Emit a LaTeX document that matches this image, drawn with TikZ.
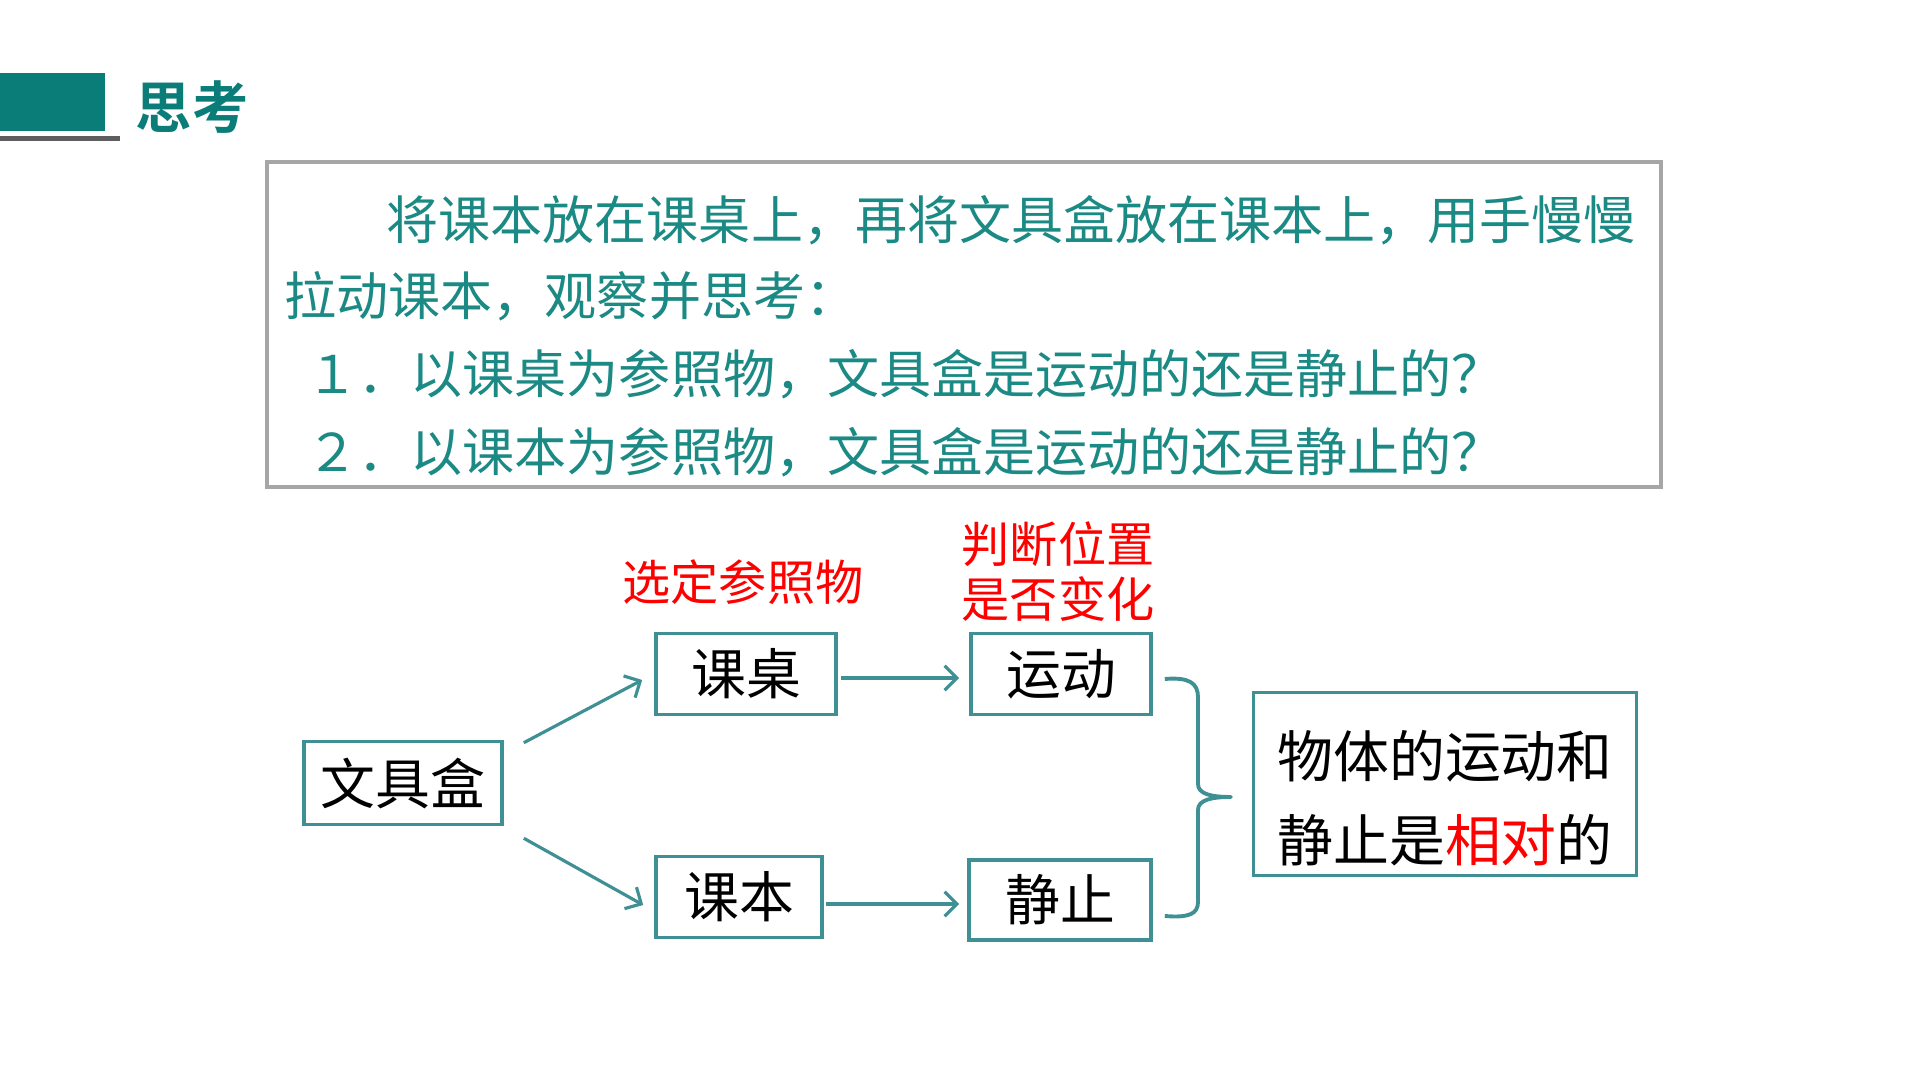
\documentclass[tikz,border=0pt]{standalone}
\usepackage{fontspec}
\setmainfont{Noto Sans CJK SC}[BoldFont={Noto Sans CJK SC Bold}]
\usetikzlibrary{arrows.meta,calc}
\definecolor{TitleTeal}{HTML}{0B7D79}
\definecolor{TextTeal}{HTML}{1B8984}
\definecolor{LineTeal}{HTML}{3E9095}
\definecolor{FrameGrey}{HTML}{A6A6A6}
\definecolor{BarGrey}{HTML}{5E5E5E}

\begin{document}
\begin{tikzpicture}[
    x=0.01cm, y=-0.01cm,
    cell/.style={
        draw=LineTeal,
        line width=1pt,
        inner sep=0pt,
        text=black,
        font=\fontsize{15.6pt}{18pt}\selectfont
    },
    flow/.style={
        draw=LineTeal,
        line width=0.9pt,
        -{Straight Barb[length=3.5pt,width=7pt]}
    },
    note/.style={
        text=red,
        inner sep=0pt,
        align=center,
        font=\fontsize{13.7pt}{15.6pt}\selectfont
    },
    textline/.style={
        anchor=west,
        inner sep=0pt,
        text=TextTeal,
        font=\fontsize{14.8pt}{17pt}\selectfont
    }
]
\useasboundingbox (0,0) rectangle (1920,1080);

% header
\fill[TitleTeal] (0,73) rectangle (105,131);
\fill[BarGrey] (0,136) rectangle (120,141);
\node[inner sep=0pt, text=TitleTeal, font=\fontsize{16pt}{18pt}\selectfont\bfseries] (title) at (192,107) {思考};

% question frame
\draw[FrameGrey, line width=1.15pt] (267,162) rectangle (1661,487);
\node[textline] (q1) at (386,220) {将课本放在课桌上，再将文具盒放在课本上，用手慢慢};
\node[textline] (q2) at (284,296) {拉动课本，观察并思考：};
\node[textline] (q3) at (306,374) {１．以课桌为参照物，文具盒是运动的还是静止的？};
\node[textline] (q4) at (306,452) {２．以课本为参照物，文具盒是运动的还是静止的？};

% flow diagram
\node[cell, minimum width=1.98cm, minimum height=0.83cm] (box) at (403,783) {文具盒};
\node[cell, minimum width=1.80cm, minimum height=0.81cm] (desk) at (746,674) {课桌};
\node[cell, minimum width=1.66cm, minimum height=0.81cm] (book) at (739,897) {课本};
\node[cell, minimum width=1.80cm, minimum height=0.81cm] (moving) at (1061,674) {运动};
\node[cell, minimum width=1.82cm, minimum height=0.80cm] (still) at (1060,900) {静止};
\node[cell, minimum width=3.83cm, minimum height=1.83cm] (result) at (1445,784) {};
\node[inner sep=0pt, align=left, font=\fontsize{15.9pt}{23.9pt}\selectfont] (resultText) at (1445,798)
      {物体的运动和\\静止是{\color{red}相对}的};

\node[note] (choose) at (743,582) {选定参照物};
\node[note] (judge) at (1058,572) {判断位置\\是否变化};

\draw[flow] ($(box.north east)+(20,3)$) -- ($(desk.west)+(-12,6)$);
\draw[flow] ($(box.south east)+(20,12)$) -- ($(book.west)+(-11,8)$);
\draw[flow] ($(desk.east)+(3,4)$) -- ($(moving.west)+(-10,4)$);
\draw[flow] ($(book.east)+(2,7)$) -- ($(still.west)+(-8,4)$);

% brace
\coordinate (braceTop) at ($(moving.east)+(12,5)$);
\coordinate (braceBot) at ($(still.east)+(12,16)$);
\coordinate (braceTip) at (1231,797);
\draw[LineTeal, line width=1.1pt, line join=round]
    (braceTop) .. controls +(24,-2) and +(0,-14) .. (1198,697)
    -- (1198,784) .. controls +(0,10) and +(-20,0) .. (braceTip)
    .. controls +(-20,0) and +(0,-10) .. (1198,810)
    -- (1198,902) .. controls +(0,12) and +(24,2) .. (braceBot);

\end{tikzpicture}
\end{document}
